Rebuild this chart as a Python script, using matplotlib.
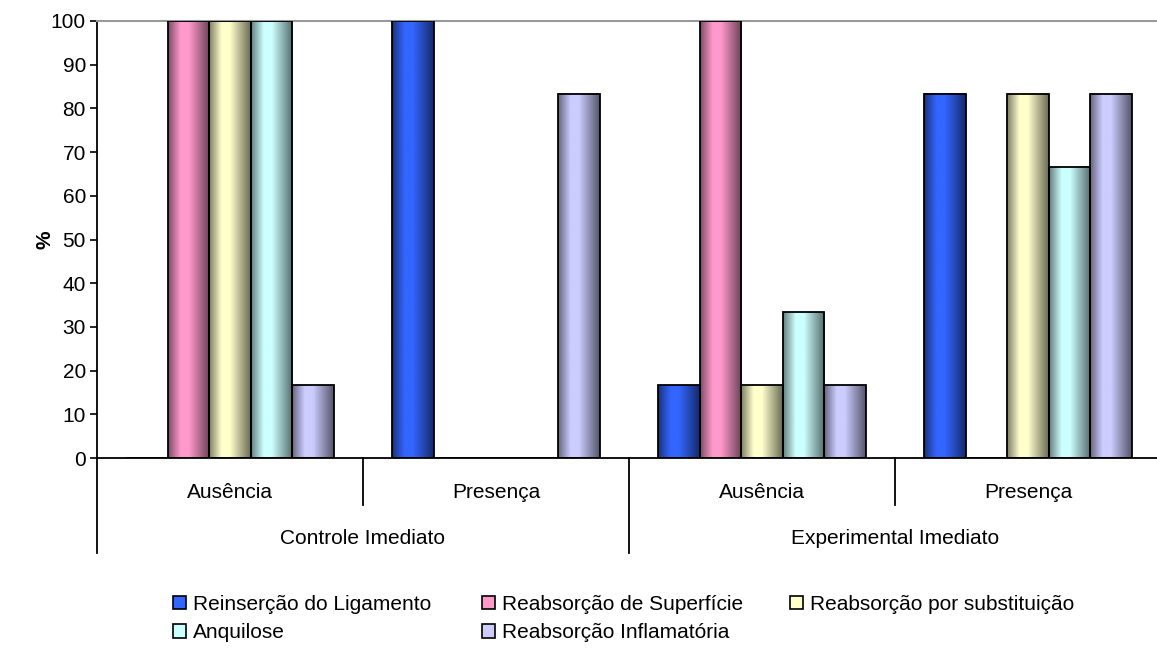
import numpy as np
import matplotlib
matplotlib.use("Agg")
import matplotlib.pyplot as plt
from matplotlib.patches import Patch
from matplotlib.colors import to_rgb

# ---- data ----
subcategories = ["Ausência", "Presença", "Ausência", "Presença"]
groups = ["Controle Imediato", "Experimental Imediato"]
series_names = ["Reinserção do Ligamento", "Reabsorção de Superfície",
                "Reabsorção por substituição", "Anquilose",
                "Reabsorção Inflamatória"]
reinsercao = [0, 100, 16.67, 83.33]
reabs_superficie = [100, 0, 100, 0]
reabs_substituicao = [100, 0, 16.67, 83.33]
anquilose = [100, 0, 33.33, 66.67]
reabs_inflamatoria = [16.67, 83.33, 16.67, 83.33]
series_values = [reinsercao, reabs_superficie, reabs_substituicao,
                 anquilose, reabs_inflamatoria]
colors = ["#3366FF", "#FF99CC", "#FFFFCC", "#CCFFFF", "#CCCCFF"]
yticks = list(range(0, 101, 10))

plt.rcParams['font.family'] = ['Liberation Sans', 'DejaVu Sans']
FS = 15

W, H = 1157, 652
fig = plt.figure(figsize=(W / 100, H / 100), dpi=100)
ax_left, ax_right, ax_top, ax_bot = 97, 1161, 21, 458
ax = fig.add_axes([ax_left / W, (H - ax_bot) / H,
                   (ax_right - ax_left) / W, (ax_bot - ax_top) / H])

x = np.arange(len(subcategories))
bw = 0.156
n = len(series_values)

# gradient profile (cylinder-like shading)
tt = np.linspace(0, 1, 64)
prof = np.interp(tt, [0, 0.3, 0.5, 1.0], [0.5, 1.0, 1.0, 0.42])

for i, (vals, col) in enumerate(zip(series_values, colors)):
    offs = (i - (n - 1) / 2) * bw
    bars = ax.bar(x + offs, vals, width=bw, facecolor="none",
                  edgecolor="black", linewidth=1.3, zorder=3)
    base = np.array(to_rgb(col))
    grad = np.clip(prof[:, None] * base[None, :], 0, 1)[None, :, :]
    for b in bars:
        h = b.get_height()
        if h <= 0:
            continue
        x0 = b.get_x()
        ax.imshow(grad, extent=[x0, x0 + b.get_width(), 0, h],
                  aspect="auto", interpolation="bilinear", zorder=2)

ax.set_xlim(-0.5, len(subcategories) - 0.5)
ax.set_ylim(0, 100)
ax.set_yticks(yticks)
ax.set_yticklabels([str(v) for v in yticks], fontsize=FS)
ax.tick_params(axis="y", direction="out", length=5, width=1.2, pad=3)
ax.set_xticks([])

ax.spines["right"].set_visible(False)
ax.spines["top"].set_color("#999999")
ax.spines["top"].set_linewidth(1.5)
ax.spines["left"].set_linewidth(1.3)
ax.spines["bottom"].set_linewidth(1.3)

fig.text(45 / W, 1 - 240 / H, "%", rotation=90, ha="center", va="center",
         fontsize=FS, fontweight="bold")

# multi-level category axis
tr = ax.get_xaxis_transform()
span = ax_bot - ax_top
y_short = -(505 - ax_bot) / span
y_long = -(553 - ax_bot) / span
y_sub = -(492 - ax_bot) / span
y_grp = -(538 - ax_bot) / span
for k in range(len(subcategories) + 1):
    xb = k - 0.5
    yb = y_long if k % 2 == 0 else y_short
    ax.plot([xb, xb], [0, yb], color="black", lw=1.3, transform=tr,
            clip_on=False)
for k, lab in enumerate(subcategories):
    ax.text(k, y_sub, lab, transform=tr, ha="center", va="center",
            fontsize=FS)
for g, lab in enumerate(groups):
    ax.text(2 * g + 0.5, y_grp, lab, transform=tr, ha="center",
            va="center", fontsize=FS)

# legend: three equal-width columns, row-major order like Excel
handles = [Patch(facecolor=c, edgecolor="black", linewidth=1.2)
           for c in colors]
columns = [[0, 3], [1, 4], [2]]
col_x = [173, 482, 790]
legend_top = 595
for cx, idxs in zip(col_x, columns):
    fig.legend([handles[i] for i in idxs], [series_names[i] for i in idxs],
               loc="upper left", bbox_to_anchor=(cx / W, 1 - legend_top / H),
               frameon=False, fontsize=FS, handlelength=0.6,
               handleheight=0.6, handletextpad=0.35, labelspacing=0.45,
               borderpad=0, borderaxespad=0)

fig.savefig("out.png", dpi=100)
